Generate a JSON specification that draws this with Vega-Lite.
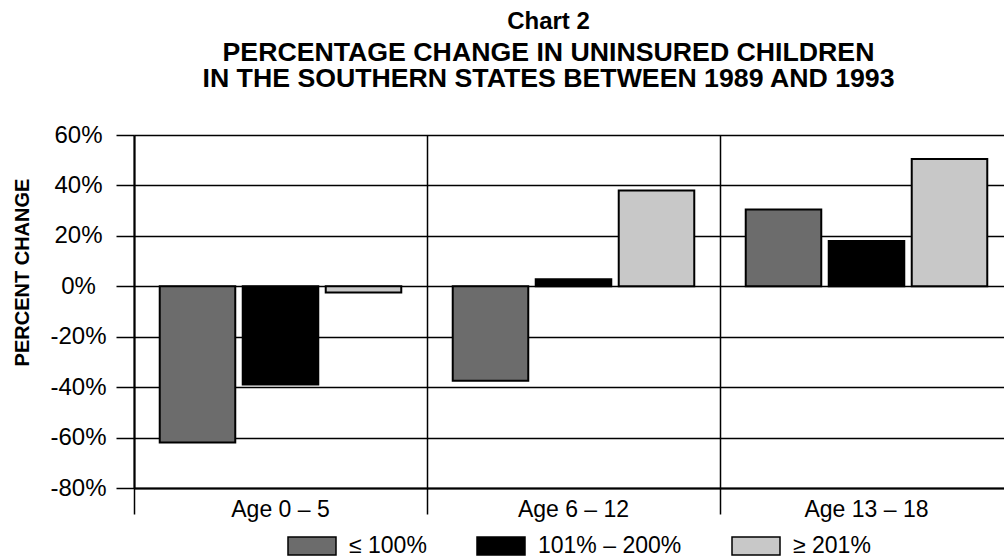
{
  "$schema": "https://vega.github.io/schema/vega-lite/v6.json",
  "autosize": "none",
  "width": 879,
  "height": 353,
  "padding": {"left": 134, "top": 135, "right": -9, "bottom": 69},
  "background": "white",
  "config": {
    "font": "Liberation Sans",
    "view": {"stroke": null}
  },
  "title": {
    "text": "Chart 2",
    "subtitle": ["PERCENTAGE CHANGE IN UNINSURED CHILDREN", "IN THE SOUTHERN STATES BETWEEN 1989 AND 1993"],
    "anchor": "middle",
    "frame": "group",
    "dx": -25,
    "fontSize": 24,
    "fontWeight": "bold",
    "font": "Liberation Sans",
    "color": "black",
    "subtitleFont": "Liberation Sans",
    "subtitleFontSize": 26.7,
    "subtitleFontWeight": "bold",
    "subtitleColor": "black",
    "subtitleLineHeight": 26,
    "subtitlePadding": 6,
    "offset": 30
  },
  "data": {
    "values": [
      {"age": "Age 0 – 5", "income": "≤ 100%", "change": -62},
      {"age": "Age 0 – 5", "income": "101% – 200%", "change": -39},
      {"age": "Age 0 – 5", "income": "≥ 201%", "change": -2.5},
      {"age": "Age 6 – 12", "income": "≤ 100%", "change": -37.5},
      {"age": "Age 6 – 12", "income": "101% – 200%", "change": 2.8},
      {"age": "Age 6 – 12", "income": "≥ 201%", "change": 38},
      {"age": "Age 13 – 18", "income": "≤ 100%", "change": 30.5},
      {"age": "Age 13 – 18", "income": "101% – 200%", "change": 18},
      {"age": "Age 13 – 18", "income": "≥ 201%", "change": 50.5}
    ]
  },
  "mark": {"type": "bar", "stroke": "black", "strokeWidth": 2},
  "encoding": {
    "x": {
      "field": "age",
      "type": "nominal",
      "sort": ["Age 0 – 5", "Age 6 – 12", "Age 13 – 18"],
      "scale": {"paddingInner": 0, "paddingOuter": 0},
      "axis": {
        "title": null,
        "labelAngle": 0,
        "labelFontSize": 23,
        "labelColor": "black",
        "labelPadding": -16,
        "bandPosition": 0,
        "grid": true,
        "gridColor": "black",
        "gridWidth": 1.5,
        "gridOpacity": 1,
        "ticks": true,
        "tickSize": 26,
        "tickColor": "black",
        "tickWidth": 1.5,
        "domain": true,
        "domainColor": "black",
        "domainWidth": 2
      }
    },
    "xOffset": {
      "field": "income",
      "type": "nominal",
      "sort": ["≤ 100%", "101% – 200%", "≥ 201%"],
      "scale": {"paddingInner": 0.09, "paddingOuter": 0.31}
    },
    "y": {
      "field": "change",
      "type": "quantitative",
      "scale": {"domain": [-80, 60], "nice": false, "zero": false},
      "axis": {
        "values": [-80, -60, -40, -20, 0, 20, 40, 60],
        "labelExpr": "datum.value + '%'",
        "title": "PERCENT CHANGE",
        "titleFontSize": 20,
        "titleFontWeight": "bold",
        "titleColor": "black",
        "titleX": -112,
        "titleY": 137,
        "titleAlign": "center",
        "titleBaseline": "middle",
        "labelFontSize": 24,
        "labelColor": "black",
        "labelAlign": "center",
        "labelBaseline": "middle",
        "labelPadding": 38,
        "tickSize": 18,
        "tickColor": "black",
        "tickWidth": 1.5,
        "grid": true,
        "gridColor": "black",
        "gridWidth": 1.5,
        "gridOpacity": 1,
        "domain": true,
        "domainColor": "black",
        "domainWidth": 2
      }
    },
    "fill": {
      "field": "income",
      "type": "nominal",
      "sort": ["≤ 100%", "101% – 200%", "≥ 201%"],
      "scale": {"domain": ["≤ 100%", "101% – 200%", "≥ 201%"], "range": ["#6c6c6c", "#000000", "#c8c8c8"]},
      "legend": {
        "title": null,
        "orient": "none",
        "legendX": 153,
        "legendY": 386,
        "direction": "horizontal",
        "symbolType": "M-1,-0.375L1,-0.375L1,0.375L-1,0.375Z",
        "symbolSize": 2304,
        "symbolStrokeColor": "black",
        "symbolStrokeWidth": 1.5,
        "labelFontSize": 23,
        "labelColor": "black",
        "labelOffset": 12,
        "columnPadding": 47
      }
    }
  }
}
